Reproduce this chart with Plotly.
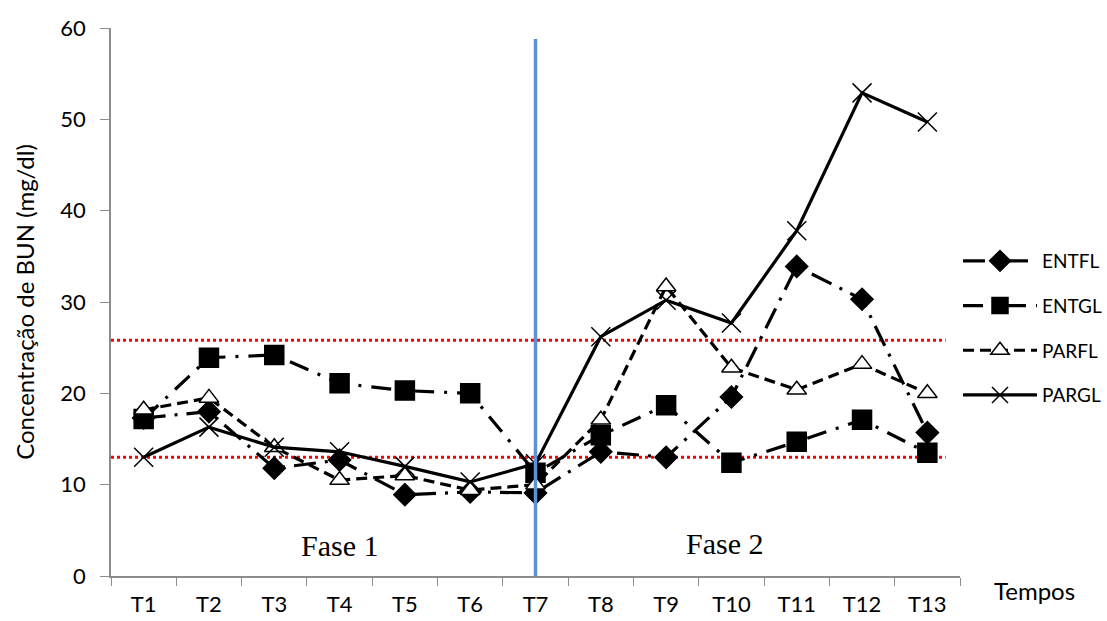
import plotly.graph_objects as go

# Sampling times and BUN concentration (mg/dl) per group
tempos = ["T1", "T2", "T3", "T4", "T5", "T6", "T7", "T8", "T9", "T10", "T11", "T12", "T13"]
entfl = [17.3, 18.0, 11.8, 12.7, 8.9, 9.2, 9.1, 13.6, 13.0, 19.6, 33.9, 30.3, 15.7]
entgl = [17.2, 23.9, 24.2, 21.1, 20.3, 20.0, 11.3, 15.4, 18.7, 12.4, 14.7, 17.1, 13.5]
parfl = [18.2, 19.5, 14.1, 10.5, 11.0, 9.4, 10.0, 17.1, 31.7, 22.8, 20.4, 23.2, 20.0]
pargl = [13.0, 16.3, 14.1, 13.6, 12.0, 10.3, 12.3, 26.2, 30.2, 27.7, 37.8, 52.9, 49.7]

ref_low = 13.0
ref_high = 25.8
phase_break = "T7"

# name, values, marker symbol, marker fill, dash pattern, marker size
series = [
    ("ENTFL", entfl, "diamond", "black", "22px,9px,3px,9px", 17),
    ("ENTGL", entgl, "square", "black", "20px,10px,3px,10px", 19),
    ("PARFL", parfl, "triangle-up", "white", "11px,6px", 17),
    ("PARGL", pargl, "x-thin-open", "black", "solid", 19),
]

fig = go.Figure()
for name, vals, sym, fill, dash, size in series:
    fig.add_trace(go.Scatter(
        x=tempos, y=vals, name=name, mode="lines+markers",
        line=dict(color="black", width=3.2, dash=dash),
        marker=dict(symbol=sym, size=size, color=fill,
                    line=dict(color="black", width=1.5)),
        legendgroup=name,
    ))

# Reference range lines
for v in (ref_low, ref_high):
    fig.add_shape(type="line", xref="x", yref="y", x0=-0.5, x1=12.28, y0=v, y1=v,
                  line=dict(color="#FF0000", width=3, dash="dot"), layer="below")

# Phase separator
fig.add_shape(type="line", xref="x", yref="y", x0=phase_break, x1=phase_break,
              y0=0, y1=58.8, line=dict(color="#5B93D8", width=3.5))

fig.add_annotation(x=3.0, y=3.3, xref="x", yref="y", text="Fase 1", showarrow=False,
                   font=dict(family="Liberation Serif", size=30, color="black"))
fig.add_annotation(x=8.9, y=3.6, xref="x", yref="y", text="Fase 2", showarrow=False,
                   font=dict(family="Liberation Serif", size=30, color="black"))
fig.add_annotation(x=(1034 - 111) / 849, y=-(590 - 576) / 548,
                   xref="paper", yref="paper", xanchor="center", yanchor="middle",
                   text="Tempos", showarrow=False,
                   font=dict(family="Lato", size=24, color="black"))

fig.update_layout(
    width=1107, height=621,
    margin=dict(l=111, r=147, t=28, b=45, autoexpand=False),
    paper_bgcolor="white", plot_bgcolor="white",
    font=dict(family="Lato", size=20, color="black"),
    showlegend=True,
    legend=dict(x=(958 - 111) / 849, y=(576 - 328) / 548, xanchor="left", yanchor="middle",
                font=dict(family="Lato", size=19, color="black"),
                itemwidth=74, tracegroupgap=17, bgcolor="rgba(0,0,0,0)"),
    xaxis=dict(range=[-0.5, 12.5], showgrid=False, showline=True, automargin=False,
               linecolor="#8C8C8C", linewidth=1.5, ticks="outside",
               tickson="boundaries", ticklen=8, tickcolor="#8C8C8C",
               tickfont=dict(size=22), ticklabelstandoff=8, zeroline=False),
    yaxis=dict(range=[0, 60], dtick=10, showgrid=False, showline=True, automargin=False,
               linecolor="#8C8C8C", linewidth=1.5, ticks="outside",
               ticklen=9, tickcolor="#8C8C8C", tickfont=dict(size=22),
               ticklabelstandoff=10, zeroline=False,
               title=dict(text="Concentração de BUN (mg/dl)", font=dict(size=24),
                          standoff=19)),
)

fig.write_html("out.html")
